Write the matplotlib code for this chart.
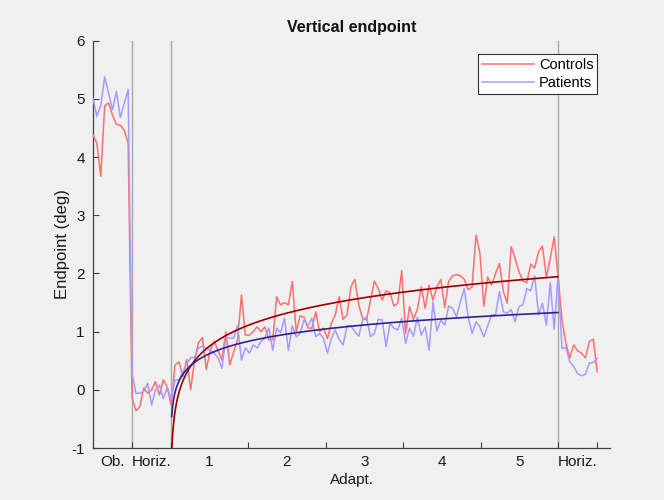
import numpy as np
import matplotlib
matplotlib.use("Agg")
import matplotlib.pyplot as plt
from matplotlib.ticker import FixedLocator, FixedFormatter, NullFormatter

plt.rcParams['font.family'] = ['Liberation Sans', 'DejaVu Sans']
plt.rcParams['axes.unicode_minus'] = False

# Trial-by-trial vertical endpoints (deg), one value per trial
controls_ob = [4.38, 4.24, 3.67, 4.88, 4.93, 4.72, 4.56, 4.55, 4.46, 4.24]
controls_horiz = [-0.14, -0.36, -0.29, 0.03, -0.06, 0.00, 0.14, -0.09, 0.17, 0.05]
controls_adapt = [
    -0.26, 0.43, 0.48, 0.23, 0.52, 0.00, 0.51, 0.81, 0.90, 0.35,
    0.68, 0.83, 0.68, 0.51, 1.00, 0.43, 0.65, 0.86, 1.63, 0.94,
    0.94, 1.00, 1.08, 1.00, 1.08, 0.86, 0.86, 1.60, 1.46, 1.50,
    1.46, 1.86, 1.00, 1.27, 1.25, 1.06, 1.06, 1.34, 1.00, 1.06,
    0.88, 1.14, 1.29, 1.60, 1.21, 1.29, 1.77, 1.90, 1.46, 1.23,
    1.20, 1.54, 1.87, 1.74, 1.54, 1.70, 1.67, 1.44, 1.49, 2.05,
    0.97, 1.43, 1.21, 1.38, 1.77, 1.40, 1.80, 1.54, 1.77, 1.90,
    1.41, 1.86, 1.96, 1.98, 1.96, 1.90, 1.72, 1.77, 2.66, 2.35,
    1.44, 1.94, 1.80, 2.00, 2.17, 1.69, 1.49, 2.46, 2.26, 2.03,
    1.87, 1.84, 2.16, 2.09, 2.37, 2.47, 1.94, 2.26, 2.63, 1.95,
]
controls_post = [1.20, 0.80, 0.55, 0.77, 0.67, 0.63, 0.55, 0.83, 0.87, 0.31]

patients_ob = [5.01, 4.70, 4.89, 5.38, 5.10, 4.81, 5.13, 4.68, 4.92, 5.16]
patients_horiz = [0.28, -0.06, -0.06, -0.03, 0.11, -0.26, 0.00, 0.08, -0.15, 0.03]
patients_adapt = [
    -0.15, 0.17, 0.17, 0.31, 0.45, 0.55, 0.56, 0.72, 0.75, 0.72,
    0.68, 0.63, 0.55, 0.37, 0.91, 0.89, 0.89, 1.11, 0.51, 0.72,
    0.63, 0.77, 0.72, 0.83, 0.89, 1.06, 0.68, 1.06, 0.98, 1.23,
    0.68, 1.10, 0.91, 0.97, 1.20, 1.10, 1.23, 0.91, 0.97, 0.88,
    0.63, 0.88, 1.03, 0.86, 0.77, 1.10, 1.10, 1.00, 0.92, 1.20,
    1.25, 0.91, 0.97, 1.21, 1.20, 0.74, 1.14, 1.06, 1.03, 1.23,
    0.80, 1.06, 0.92, 1.25, 0.94, 1.08, 0.68, 1.51, 1.01, 1.20,
    1.11, 1.44, 1.40, 1.26, 1.51, 1.74, 1.25, 0.97, 1.17, 1.08,
    0.91, 1.10, 1.29, 1.29, 1.69, 1.34, 1.32, 1.38, 1.17, 1.43,
    1.46, 1.74, 1.70, 1.96, 1.29, 1.49, 1.11, 1.84, 1.04, 1.95,
]
patients_post = [0.71, 0.73, 0.48, 0.40, 0.28, 0.24, 0.27, 0.46, 0.47, 0.54]

# Logarithmic fits to the adaptation phase: y = a + b * ln(trial)
controls_fit = (-0.45, 0.52)
patients_fit = (-0.09, 0.308)

# Block boundaries (trials) and block labels
block_edges = [0, 10, 20, 40, 60, 80, 100, 120, 130]
block_labels = ['Ob.', 'Horiz.', '1', '2', '3', '4', '5', 'Horiz.']
phase_lines = [10, 20, 120]
adapt_start, adapt_end = 20, 120

controls = np.concatenate([controls_ob, controls_horiz, controls_adapt, controls_post])
patients = np.concatenate([patients_ob, patients_horiz, patients_adapt, patients_post])
trials = np.linspace(block_edges[0], block_edges[-1], len(controls))

BG = '#f0f0f0'
fig = plt.figure(figsize=(6.64, 5.0), dpi=100, facecolor=BG)
ax = fig.add_axes([0.140, 0.104, 0.7786, 0.8146], facecolor=BG)

for xv in phase_lines:
    ax.axvline(xv, color='#a8a8a8', lw=1.0, zorder=1)

ax.plot(trials, controls, color='#ff6f6f', lw=1.1, label='Controls', zorder=3)
ax.plot(trials, patients, color='#a39bff', lw=1.1, label='Patients', zorder=3)

t_fit = np.linspace(0.3, adapt_end - adapt_start - 0.1, 400)
for (a, b), col in ((controls_fit, '#960000'), (patients_fit, '#2f2391')):
    ax.plot(adapt_start + t_fit, a + b * np.log(t_fit), color=col, lw=1.2, zorder=4)

ax.set_xlim(0, 133.3)
ax.set_ylim(-1, 6)
ax.set_yticks(np.arange(-1, 7, 1))

# Tick marks at block edges, labels centred within each block
ax.xaxis.set_major_locator(FixedLocator(block_edges))
ax.xaxis.set_major_formatter(NullFormatter())
centres = [(block_edges[i] + block_edges[i + 1]) / 2 for i in range(len(block_edges) - 1)]
ax.xaxis.set_minor_locator(FixedLocator(centres))
ax.xaxis.set_minor_formatter(FixedFormatter(block_labels))
ax.tick_params(axis='x', which='minor', length=0, pad=5, labelsize=11, colors='#1a1a1a')
ax.tick_params(axis='x', which='major', direction='in', length=4, width=0.8, color='#404040')
ax.tick_params(axis='y', direction='in', length=4.5, width=0.8, color='#404040',
               pad=6, labelsize=11, labelcolor='#1a1a1a')

for side in ('top', 'right'):
    ax.spines[side].set_visible(False)
for side in ('left', 'bottom'):
    ax.spines[side].set_color('#404040')
    ax.spines[side].set_linewidth(0.9)

ax.set_title('Vertical endpoint', fontsize=11.5, fontweight='bold', pad=6, color='#111111')
ax.set_xlabel('Adapt.', fontsize=11, labelpad=3, color='#1a1a1a')
ax.set_ylabel('Endpoint (deg)', fontsize=12, labelpad=1, color='#1a1a1a')

leg = ax.legend(loc='upper right', bbox_to_anchor=(0.975, 0.967), borderaxespad=0,
                fancybox=False, framealpha=1, edgecolor='#303030', fontsize=10.5,
                handlelength=3.6, handletextpad=0.3, borderpad=0.25, labelspacing=0.3)
leg.get_frame().set_linewidth(0.8)
leg.set_zorder(6)

fig.savefig('out.png', dpi=100, facecolor=BG)
